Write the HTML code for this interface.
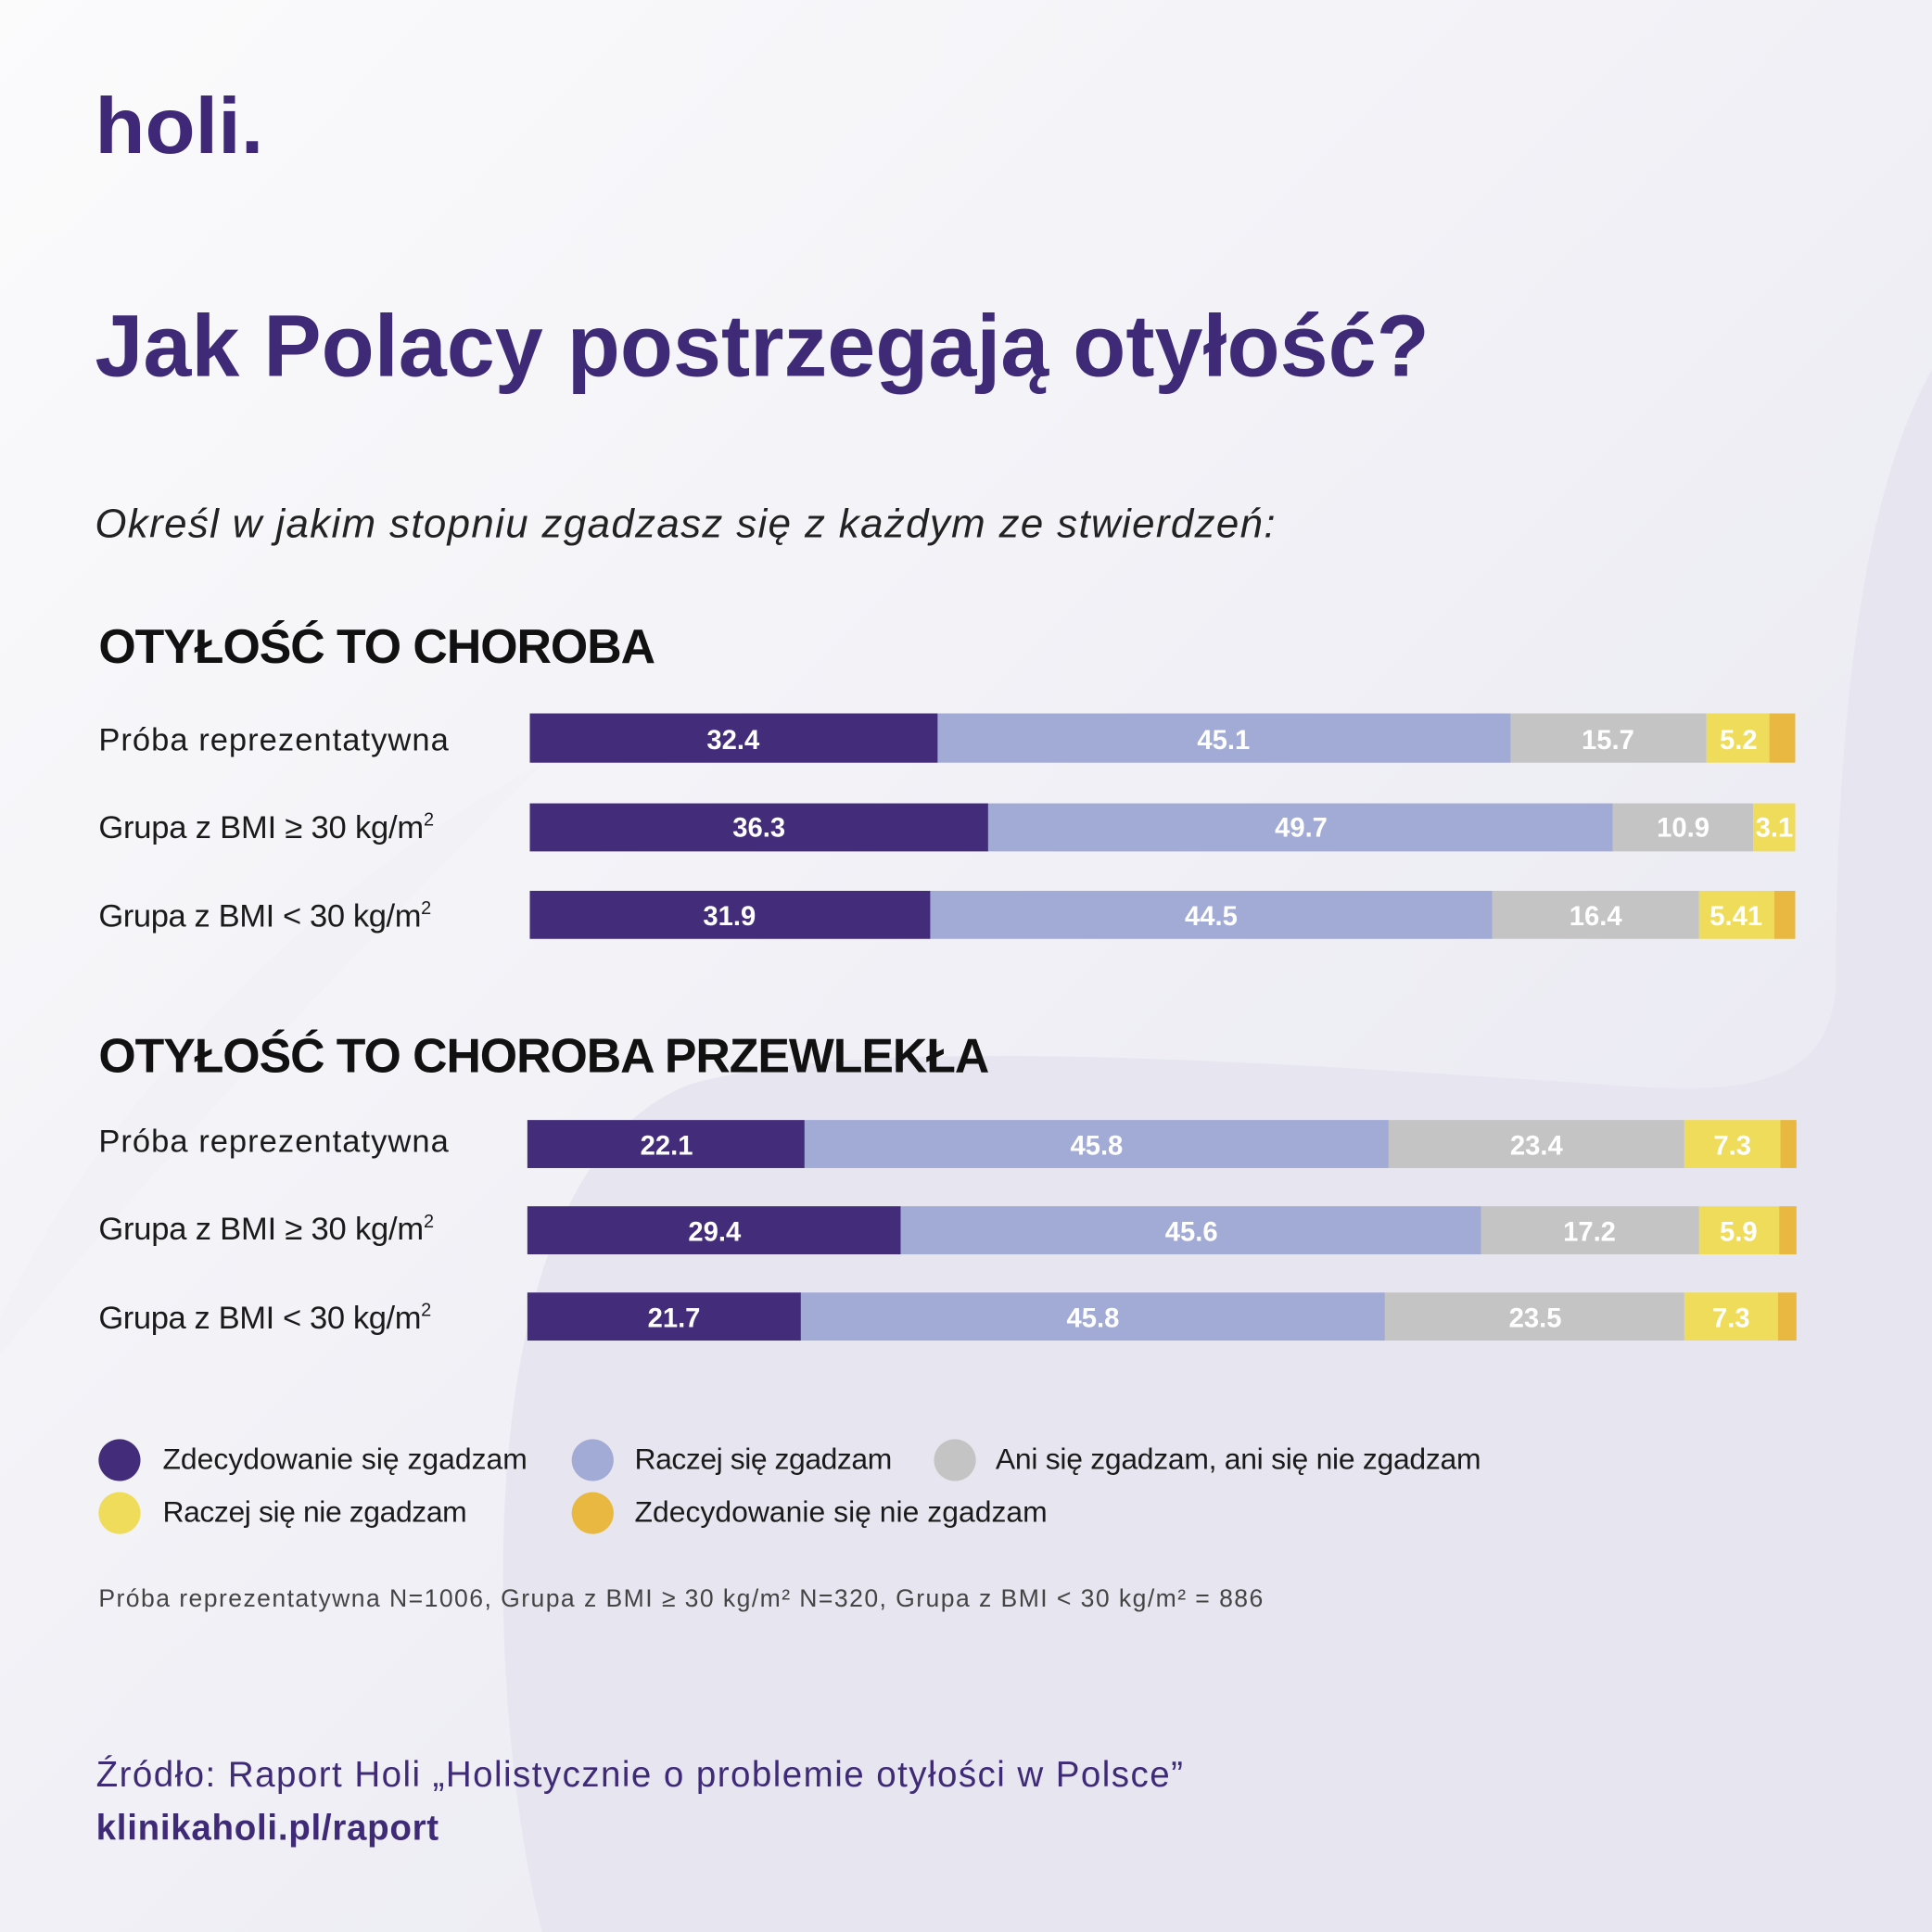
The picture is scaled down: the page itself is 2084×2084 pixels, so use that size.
<!DOCTYPE html>
<html><head><meta charset="utf-8"><style>
html,body{margin:0;padding:0;background:#f4f3f8}
svg{display:block}
text{font-family:"Liberation Sans",sans-serif}
</style></head><body>
<svg width="2084" height="2084" viewBox="0 0 1568 1568" xmlns="http://www.w3.org/2000/svg">
<defs>
<linearGradient id="bg" x1="0" y1="0" x2="1" y2="1">
<stop offset="0" stop-color="#fbfbfc"/><stop offset="1" stop-color="#e6e5f0"/>
</linearGradient>
</defs>
<rect width="1568" height="1568" fill="url(#bg)"/>
<path d="M1568 300 C1500 420 1490 650 1490 800 C1485 880 1420 890 1300 880 C1000 860 700 840 560 880 C430 930 400 1150 410 1350 C415 1450 430 1530 440 1568 L1568 1568 Z" fill="#e7e6f0"/>
<path d="M0 1070 C80 900 250 720 440 620 C300 760 120 950 0 1100 Z" fill="#f0eff5" opacity="0.7"/>
<text x="77" y="124" font-size="64" font-weight="bold" fill="#3f2878" textLength="137" lengthAdjust="spacingAndGlyphs">holi.</text>
<text x="77" y="305" font-size="71" font-weight="bold" fill="#3f2a78" textLength="1083" lengthAdjust="spacingAndGlyphs">Jak Polacy postrzegają otyłość?</text>
<text x="77" y="436" font-size="33" font-style="italic" fill="#222" textLength="958">Określ w jakim stopniu zgadzasz się z każdym ze stwierdzeń:</text>
<text x="80" y="538" font-size="39" font-weight="bold" fill="#111" textLength="452">OTYŁOŚĆ TO CHOROBA</text>
<text x="80" y="870" font-size="39" font-weight="bold" fill="#111" textLength="723">OTYŁOŚĆ TO CHOROBA PRZEWLEKŁA</text>
<g font-size="26" fill="#1a1a1a">
<text x="80" y="609" textLength="284">Próba reprezentatywna</text>
<text x="80" y="680"><tspan textLength="264">Grupa z BMI ≥ 30 kg/m</tspan><tspan font-size="15" dy="-10">2</tspan></text>
<text x="80" y="752"><tspan textLength="262">Grupa z BMI &lt; 30 kg/m</tspan><tspan font-size="15" dy="-10">2</tspan></text>
<text x="80" y="935" textLength="284">Próba reprezentatywna</text>
<text x="80" y="1006"><tspan textLength="264">Grupa z BMI ≥ 30 kg/m</tspan><tspan font-size="15" dy="-10">2</tspan></text>
<text x="80" y="1078"><tspan textLength="262">Grupa z BMI &lt; 30 kg/m</tspan><tspan font-size="15" dy="-10">2</tspan></text>
</g>
<g>
<rect x="430" y="579" width="331" height="40" fill="#432c7a"/><rect x="761" y="579" width="465" height="40" fill="#a2aad6"/><rect x="1226" y="579" width="159" height="40" fill="#c4c4c4"/><rect x="1385" y="579" width="51" height="40" fill="#efdc5a"/><rect x="1436" y="579" width="21" height="40" fill="#e8b840"/>
<rect x="430" y="652" width="372" height="39" fill="#432c7a"/><rect x="802" y="652" width="507" height="39" fill="#a2aad6"/><rect x="1309" y="652" width="114" height="39" fill="#c4c4c4"/><rect x="1423" y="652" width="34" height="39" fill="#efdc5a"/>
<rect x="430" y="723" width="325" height="39" fill="#432c7a"/><rect x="755" y="723" width="456" height="39" fill="#a2aad6"/><rect x="1211" y="723" width="168" height="39" fill="#c4c4c4"/><rect x="1379" y="723" width="61" height="39" fill="#efdc5a"/><rect x="1440" y="723" width="17" height="39" fill="#e8b840"/>
<rect x="428" y="909" width="225" height="39" fill="#432c7a"/><rect x="653" y="909" width="474" height="39" fill="#a2aad6"/><rect x="1127" y="909" width="240" height="39" fill="#c4c4c4"/><rect x="1367" y="909" width="78" height="39" fill="#efdc5a"/><rect x="1445" y="909" width="13" height="39" fill="#e8b840"/>
<rect x="428" y="979" width="303" height="39" fill="#432c7a"/><rect x="731" y="979" width="471" height="39" fill="#a2aad6"/><rect x="1202" y="979" width="177" height="39" fill="#c4c4c4"/><rect x="1379" y="979" width="65" height="39" fill="#efdc5a"/><rect x="1444" y="979" width="14" height="39" fill="#e8b840"/>
<rect x="428" y="1049" width="222" height="39" fill="#432c7a"/><rect x="650" y="1049" width="474" height="39" fill="#a2aad6"/><rect x="1124" y="1049" width="243" height="39" fill="#c4c4c4"/><rect x="1367" y="1049" width="76" height="39" fill="#efdc5a"/><rect x="1443" y="1049" width="15" height="39" fill="#e8b840"/>
</g>
<g font-size="22" font-weight="bold" fill="#fff" text-anchor="middle">
<text x="595" y="608">32.4</text><text x="993" y="608">45.1</text><text x="1305" y="608">15.7</text><text x="1411" y="608">5.2</text>
<text x="616" y="679">36.3</text><text x="1056" y="679">49.7</text><text x="1366" y="679">10.9</text><text x="1440" y="679">3.1</text>
<text x="592" y="751">31.9</text><text x="983" y="751">44.5</text><text x="1295" y="751">16.4</text><text x="1409" y="751">5.41</text>
<text x="541" y="937">22.1</text><text x="890" y="937">45.8</text><text x="1247" y="937">23.4</text><text x="1406" y="937">7.3</text>
<text x="580" y="1007">29.4</text><text x="967" y="1007">45.6</text><text x="1290" y="1007">17.2</text><text x="1411" y="1007">5.9</text>
<text x="547" y="1077">21.7</text><text x="887" y="1077">45.8</text><text x="1246" y="1077">23.5</text><text x="1405" y="1077">7.3</text>
</g>
<circle cx="97" cy="1185" r="17" fill="#432c7a"/><circle cx="481" cy="1185" r="17" fill="#a2aad6"/><circle cx="775" cy="1185" r="17" fill="#c4c4c4"/>
<circle cx="97" cy="1228" r="17" fill="#efdc5a"/><circle cx="481" cy="1228" r="17" fill="#e8b840"/>
<g font-size="24" fill="#1a1a1a">
<text x="132" y="1192" textLength="296">Zdecydowanie się zgadzam</text><text x="515" y="1192" textLength="209">Raczej się zgadzam</text><text x="808" y="1192" textLength="394">Ani się zgadzam, ani się nie zgadzam</text>
<text x="132" y="1235" textLength="247">Raczej się nie zgadzam</text><text x="515" y="1235" textLength="335">Zdecydowanie się nie zgadzam</text>
</g>
<text x="80" y="1304" font-size="20" fill="#444" textLength="945">Próba reprezentatywna N=1006, Grupa z BMI ≥ 30 kg/m² N=320, Grupa z BMI &lt; 30 kg/m² = 886</text>
<text x="78" y="1450" font-size="29" fill="#3f2a78" textLength="882">Źródło: Raport Holi „Holistycznie o problemie otyłości w Polsce”</text>
<text x="78" y="1493" font-size="29" font-weight="bold" fill="#3f2a78" textLength="278">klinikaholi.pl/raport</text>
</svg>
</body></html>
